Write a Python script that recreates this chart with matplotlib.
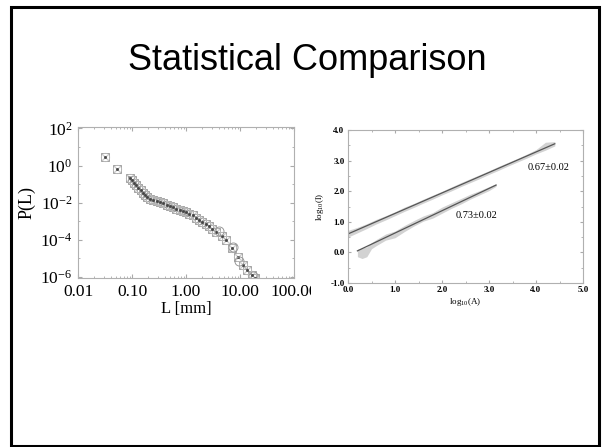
import matplotlib
matplotlib.use("Agg")
import matplotlib.pyplot as plt
from matplotlib.patches import Rectangle
from matplotlib.ticker import FixedLocator, FixedFormatter, MultipleLocator, NullFormatter
from matplotlib.transforms import Bbox, TransformedBbox

plt.rcParams['mathtext.fontset'] = 'custom'
plt.rcParams['mathtext.rm'] = 'Liberation Serif'
plt.rcParams['mathtext.it'] = 'Liberation Serif:italic'

# left panel: length distribution P(L)
L_mm = [0.032, 0.053, 0.091, 0.10, 0.11, 0.12, 0.13, 0.145, 0.16, 0.175, 0.19,
        0.22, 0.25, 0.29, 0.33, 0.38, 0.44, 0.50, 0.575, 0.66, 0.76, 0.87,
        1.0, 1.15, 1.32, 1.51, 1.74, 2.0, 2.3, 2.63, 3.0, 3.6, 4.6, 5.6,
        7.1, 9.1, 11.2, 13.2, 16.6, 19.0]
P_L = [2.75, 0.7, 0.22, 0.166, 0.12, 0.087, 0.063, 0.048, 0.035, 0.026, 0.02,
       0.016, 0.014, 0.0126, 0.0107, 0.0093, 0.0079, 0.0066, 0.0056, 0.0048,
       0.0042, 0.0037, 0.0032, 0.0026, 0.0021, 0.0016, 0.0012, 0.00093,
       0.00076, 0.00056, 0.0004, 0.00028, 0.000166, 0.0001, 3.5e-5, 1.26e-5,
       4.5e-6, 2.5e-6, 1.26e-6, 9e-7]
# extra circles in the tail
L_circ = [4.0, 7.4, 9.4, 17.5]
P_circ = [0.00032, 4.2e-5, 7.4e-6, 1.2e-6]

x_ticks = [0.01, 0.1, 1.0, 10.0, 100.0]
x_labels = ['0.01', '0.10', '1.00', '10.00', '100.00']
y_ticks = [1e-6, 1e-4, 1e-2, 1e0, 1e2]
y_labels = ['$10^{-6}$', '$10^{-4}$', '$10^{-2}$', '$10^{0}$', '$10^{2}$']

# right panel: log10(l) vs log10(A)
up_x = [0.0, 0.2, 0.4, 0.6, 0.8, 1.0, 1.2, 1.4, 1.6, 1.8, 2.0, 2.2, 2.4, 2.6,
        2.8, 3.0, 3.2, 3.4, 3.6, 3.8, 4.0, 4.2, 4.4]
up_hi = [0.72, 0.82, 0.94, 1.08, 1.20, 1.33, 1.48, 1.60, 1.74, 1.87, 2.00, 2.14,
         2.28, 2.41, 2.54, 2.67, 2.81, 2.94, 3.07, 3.21, 3.36, 3.60, 3.62]
up_lo = [0.50, 0.64, 0.78, 0.93, 1.06, 1.20, 1.34, 1.47, 1.61, 1.74, 1.88, 2.01,
         2.15, 2.28, 2.41, 2.55, 2.68, 2.82, 2.95, 3.08, 3.22, 3.34, 3.48]
lo_x = [0.2, 0.3, 0.4, 0.5, 0.6, 0.8, 1.0, 1.2, 1.4, 1.6, 1.8, 2.0, 2.2, 2.4,
        2.6, 2.8, 3.0, 3.15]
lo_hi = [0.10, 0.14, 0.18, 0.32, 0.42, 0.60, 0.70, 0.88, 1.04, 1.19, 1.30, 1.48,
         1.62, 1.76, 1.90, 2.02, 2.15, 2.25]
lo_lo = [-0.14, -0.20, -0.14, 0.12, 0.22, 0.40, 0.48, 0.68, 0.86, 1.02, 1.12,
         1.28, 1.44, 1.58, 1.74, 1.88, 2.02, 2.16]
fit_up_x = [-0.05, 4.4]
fit_up_y = [0.57, 3.55]
fit_lo_x = [0.2, 3.15]
fit_lo_y = [0.05, 2.20]
slope_labels = ['0.67\u00b10.02', '0.73\u00b10.02']

fig = plt.figure(figsize=(6.02, 4.47), dpi=100)
fig.patches.append(Rectangle((11 / 602, 1 - 445.5 / 447), 588 / 602, 439 / 447,
                             transform=fig.transFigure, fill=False,
                             edgecolor='black', linewidth=2.2))
fig.text(0.511, 1 - 60 / 447, 'Statistical Comparison', ha='center', va='center',
         fontsize=26, family='Liberation Sans')

serif = 'Liberation Serif'

# ---- left plot
ax1 = fig.add_axes([78 / 602, 1 - 278 / 447, 216 / 602, 151 / 447])
ax1.set_xscale('log')
ax1.set_yscale('log')
ax1.plot(L_mm, P_L, ls='none', marker='s', ms=5.5, mfc='none', mec='#a0a0a0', mew=0.7)
ax1.plot(L_mm, P_L, ls='none', marker='o', ms=6, mfc='none', mec='#bbbbbb', mew=0.6)
ax1.plot(L_mm, P_L, ls='none', marker='x', ms=3.5, mec='#888888', mew=0.6)
ax1.plot(L_mm, P_L, ls='none', marker='.', ms=2, color='#444444')
ax1.plot(L_circ, P_circ, ls='none', marker='o', ms=6.5, mfc='none', mec='#999999', mew=0.7)
ax1.set_xlim(0.01, 100)
ax1.set_ylim(10 ** -6.05, 10 ** 2.08)
ax1.xaxis.set_major_locator(FixedLocator(x_ticks))
ax1.xaxis.set_major_formatter(FixedFormatter(x_labels))
ax1.xaxis.set_minor_formatter(NullFormatter())
ax1.yaxis.set_major_locator(FixedLocator(y_ticks))
ax1.yaxis.set_major_formatter(FixedFormatter(y_labels))
ax1.yaxis.set_minor_locator(FixedLocator([1e-5, 1e-3, 1e-1, 1e1]))
ax1.yaxis.set_minor_formatter(NullFormatter())
ax1.tick_params(which='both', direction='in', top=True, right=True,
                color='#aaaaaa', labelsize=12.5, pad=4)
ax1.tick_params(which='major', length=3)
ax1.tick_params(which='minor', length=1.5)
for lab in ax1.get_xticklabels() + ax1.get_yticklabels():
    lab.set_family(serif)
for s in ax1.spines.values():
    s.set_color('#b0b0b0')
    s.set_linewidth(0.8)
ax1.set_xlabel('L [mm]', family=serif, fontsize=12, labelpad=1)
ax1.set_ylabel('P(L)', family=serif, fontsize=13, labelpad=3)
clip = TransformedBbox(Bbox.from_extents(0, 0, 311 / 602, 1), fig.transFigure)
for lab in ax1.get_xticklabels():
    lab.set_clip_box(clip)
    lab.set_clip_on(True)

# ---- right plot
ax2 = fig.add_axes([348 / 602, 1 - 283 / 447, 235 / 602, 153 / 447])
ax2.fill_between(up_x, up_lo, up_hi, color='#d2d2d2', lw=0)
ax2.fill_between(lo_x, lo_lo, lo_hi, color='#d2d2d2', lw=0)
ax2.plot(fit_up_x, fit_up_y, color='#555555', lw=0.9)
ax2.plot(fit_lo_x, fit_lo_y, color='#555555', lw=0.9)
ax2.text(3.83, 2.77, slope_labels[0], family=serif, fontsize=7.5, va='center')
ax2.text(2.30, 1.19, slope_labels[1], family=serif, fontsize=7.5, va='center')
ax2.set_xlim(0, 5)
ax2.set_ylim(-1, 4)
ax2.xaxis.set_major_locator(MultipleLocator(1.0))
ax2.yaxis.set_major_locator(MultipleLocator(1.0))
ax2.xaxis.set_minor_locator(MultipleLocator(0.5))
ax2.yaxis.set_minor_locator(MultipleLocator(0.5))
ax2.xaxis.set_major_formatter(plt.FormatStrFormatter('%.1f'))
ax2.yaxis.set_major_formatter(plt.FormatStrFormatter('%.1f'))
ax2.tick_params(which='both', direction='in', top=True, right=True,
                color='#aaaaaa', labelsize=6.5, pad=2.5)
ax2.tick_params(which='major', length=2.5)
ax2.tick_params(which='minor', length=1.5)
for lab in ax2.get_xticklabels() + ax2.get_yticklabels():
    lab.set_family(serif)
    lab.set_fontweight('bold')
for s in ax2.spines.values():
    s.set_color('#b0b0b0')
    s.set_linewidth(0.8)
ax2.set_xlabel('log$_{10}$(A)', family=serif, fontsize=6.5, labelpad=1)
ax2.set_ylabel('log$_{10}$(l)', family=serif, fontsize=6.5, labelpad=3)

fig.savefig('out.png', dpi=100)
